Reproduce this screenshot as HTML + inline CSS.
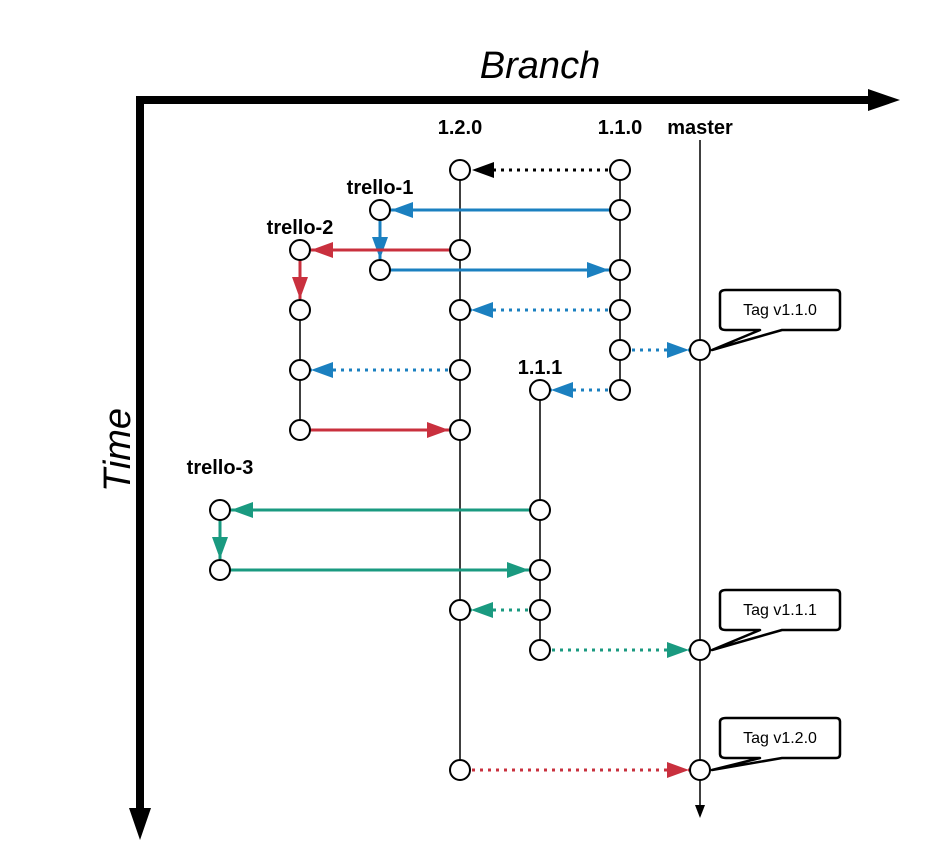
<!DOCTYPE html>
<html><head><meta charset="utf-8"><style>
html,body{margin:0;padding:0;background:#fff}
svg{display:block}
text{font-family:"Liberation Sans",sans-serif}
.b{font-weight:bold;font-size:20px;text-anchor:middle}
</style></head><body>
<svg width="927" height="868" viewBox="0 0 927 868">
<defs>
<marker id="mk" markerUnits="userSpaceOnUse" markerWidth="24" markerHeight="18" refX="22" refY="8" orient="auto"><path d="M0,0 L22,8 L0,16 Z" fill="#000"/></marker>
<marker id="mb" markerUnits="userSpaceOnUse" markerWidth="24" markerHeight="18" refX="22" refY="8" orient="auto"><path d="M0,0 L22,8 L0,16 Z" fill="#1b80c0"/></marker>
<marker id="mr" markerUnits="userSpaceOnUse" markerWidth="24" markerHeight="18" refX="22" refY="8" orient="auto"><path d="M0,0 L22,8 L0,16 Z" fill="#c9303e"/></marker>
<marker id="mg" markerUnits="userSpaceOnUse" markerWidth="24" markerHeight="18" refX="22" refY="8" orient="auto"><path d="M0,0 L22,8 L0,16 Z" fill="#1a9a80"/></marker>
</defs>
<line x1="136" y1="100" x2="872" y2="100" stroke="#000" stroke-width="8"/>
<path d="M868,89 L900,100 L868,111 Z" fill="#000"/>
<line x1="140" y1="96" x2="140" y2="812" stroke="#000" stroke-width="8"/>
<path d="M129,808 L140,840 L151,808 Z" fill="#000"/>
<text x="540" y="78" font-size="38" font-style="italic" text-anchor="middle">Branch</text>
<text transform="translate(130,450) rotate(-90)" font-size="38" font-style="italic" text-anchor="middle">Time</text>
<g stroke="#000" stroke-width="1.5">
<line x1="460" y1="170" x2="460" y2="770"/>
<line x1="620" y1="170" x2="620" y2="390"/>
<line x1="540" y1="390" x2="540" y2="650"/>
<line x1="300" y1="250" x2="300" y2="430"/>
<line x1="700" y1="140" x2="700" y2="808"/>
</g>
<path d="M695,805 L700,818 L705,805 Z" fill="#000"/>
<text class="b" x="460" y="134">1.2.0</text>
<text class="b" x="620" y="134">1.1.0</text>
<text class="b" x="700" y="134">master</text>
<text class="b" x="380" y="194">trello-1</text>
<text class="b" x="300" y="234">trello-2</text>
<text class="b" x="540" y="374">1.1.1</text>
<text class="b" x="220" y="474">trello-3</text>
<g stroke-width="3" fill="none">
<line x1="608" y1="170" x2="472" y2="170" stroke="#000" stroke-dasharray="3,5" marker-end="url(#mk)"/>
<line x1="610" y1="210" x2="391" y2="210" stroke="#1b80c0" marker-end="url(#mb)"/>
<line x1="380" y1="220" x2="380" y2="259" stroke="#1b80c0" marker-end="url(#mb)"/>
<line x1="450" y1="250" x2="311" y2="250" stroke="#c9303e" marker-end="url(#mr)"/>
<line x1="300" y1="260" x2="300" y2="299" stroke="#c9303e" marker-end="url(#mr)"/>
<line x1="390" y1="270" x2="609" y2="270" stroke="#1b80c0" marker-end="url(#mb)"/>
<line x1="608" y1="310" x2="471" y2="310" stroke="#1b80c0" stroke-dasharray="3,5" marker-end="url(#mb)"/>
<line x1="632" y1="350" x2="689" y2="350" stroke="#1b80c0" stroke-dasharray="3,5" marker-end="url(#mb)"/>
<line x1="448" y1="370" x2="311" y2="370" stroke="#1b80c0" stroke-dasharray="3,5" marker-end="url(#mb)"/>
<line x1="608" y1="390" x2="551" y2="390" stroke="#1b80c0" stroke-dasharray="3,5" marker-end="url(#mb)"/>
<line x1="310" y1="430" x2="449" y2="430" stroke="#c9303e" marker-end="url(#mr)"/>
<line x1="530" y1="510" x2="231" y2="510" stroke="#1a9a80" marker-end="url(#mg)"/>
<line x1="220" y1="520" x2="220" y2="559" stroke="#1a9a80" marker-end="url(#mg)"/>
<line x1="230" y1="570" x2="529" y2="570" stroke="#1a9a80" marker-end="url(#mg)"/>
<line x1="528" y1="610" x2="471" y2="610" stroke="#1a9a80" stroke-dasharray="3,5" marker-end="url(#mg)"/>
<line x1="552" y1="650" x2="689" y2="650" stroke="#1a9a80" stroke-dasharray="3,5" marker-end="url(#mg)"/>
<line x1="472" y1="770" x2="689" y2="770" stroke="#c9303e" stroke-dasharray="3,5" marker-end="url(#mr)"/>
</g>
<g fill="#fff" stroke="#000" stroke-width="2.5" stroke-linejoin="round">
<path d="M726,290 H836 Q840,290 840,294 V326 Q840,330 836,330 H782 L712,350 L760,330 H726 Q720,330 720,326 V294 Q720,290 726,290 Z"/>
<path d="M726,590 H836 Q840,590 840,594 V626 Q840,630 836,630 H782 L712,650 L760,630 H726 Q720,630 720,626 V594 Q720,590 726,590 Z"/>
<path d="M726,718 H836 Q840,718 840,722 V754 Q840,758 836,758 H782 L712,770 L760,758 H726 Q720,758 720,754 V722 Q720,718 726,718 Z"/>
</g>
<text x="780" y="315" font-size="16" text-anchor="middle">Tag v1.1.0</text>
<text x="780" y="615" font-size="16" text-anchor="middle">Tag v1.1.1</text>
<text x="780" y="743" font-size="16" text-anchor="middle">Tag v1.2.0</text>
<g fill="#fff" stroke="#000" stroke-width="2">
<circle cx="460" cy="170" r="10"/><circle cx="620" cy="170" r="10"/>
<circle cx="380" cy="210" r="10"/><circle cx="620" cy="210" r="10"/>
<circle cx="300" cy="250" r="10"/><circle cx="460" cy="250" r="10"/>
<circle cx="380" cy="270" r="10"/><circle cx="620" cy="270" r="10"/>
<circle cx="300" cy="310" r="10"/><circle cx="460" cy="310" r="10"/><circle cx="620" cy="310" r="10"/>
<circle cx="620" cy="350" r="10"/><circle cx="700" cy="350" r="10"/>
<circle cx="300" cy="370" r="10"/><circle cx="460" cy="370" r="10"/>
<circle cx="540" cy="390" r="10"/><circle cx="620" cy="390" r="10"/>
<circle cx="300" cy="430" r="10"/><circle cx="460" cy="430" r="10"/>
<circle cx="220" cy="510" r="10"/><circle cx="540" cy="510" r="10"/>
<circle cx="220" cy="570" r="10"/><circle cx="540" cy="570" r="10"/>
<circle cx="460" cy="610" r="10"/><circle cx="540" cy="610" r="10"/>
<circle cx="540" cy="650" r="10"/><circle cx="700" cy="650" r="10"/>
<circle cx="460" cy="770" r="10"/><circle cx="700" cy="770" r="10"/>
</g>
</svg>
</body></html>
